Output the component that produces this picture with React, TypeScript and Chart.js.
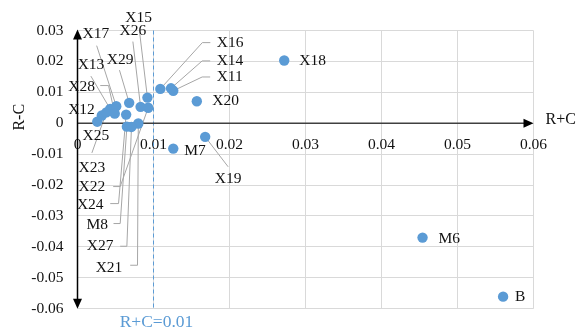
import { useEffect, useRef } from 'react';
import { Chart, registerables } from 'chart.js';

Chart.register(...registerables);

// ---- data ----
const pointNames = ['B', 'M6', 'M7', 'M8', 'X11', 'X12', 'X13', 'X14', 'X15', 'X16', 'X17', 'X18', 'X19', 'X20', 'X21', 'X22', 'X23', 'X24', 'X25', 'X26', 'X27', 'X28', 'X29'];
const rPlusC = [0.056, 0.0454, 0.0126, 0.0065, 0.0126, 0.0032, 0.0043, 0.0123, 0.0092, 0.0109, 0.0051, 0.0272, 0.0168, 0.0157, 0.008, 0.0093, 0.0038, 0.0064, 0.0026, 0.0083, 0.0071, 0.0049, 0.0068];
const rMinusC = [-0.0561, -0.037, -0.0082, -0.0011, 0.0105, 0.0025, 0.0046, 0.0113, 0.0083, 0.0111, 0.0055, 0.0203, -0.0044, 0.0071, -0.0001, 0.005, 0.0035, 0.0028, 0.0005, 0.0053, -0.0012, 0.0031, 0.0066];
const xTicks = [0, 0.01, 0.02, 0.03, 0.04, 0.05, 0.06];
const yTicks = [0.03, 0.02, 0.01, 0, -0.01, -0.02, -0.03, -0.04, -0.05, -0.06];
const thresholdX = 0.01;
const thresholdLabel = 'R+C=0.01';
const xTitle = 'R+C';
const yTitle = 'R-C';

// ---- label placement (pixel offsets from the point) ----
type Note = { t: [number, number]; align: 'left' | 'center'; path?: [number, number][] };
const notes: Record<string, Note> = {
  B: { t: [12, 0.5], align: 'left' },
  M6: { t: [16, 1.5], align: 'left' },
  M7: { t: [11, 2.5], align: 'left' },
  X18: { t: [15, 0], align: 'left' },
  X20: { t: [15.5, 0], align: 'left' },
  X19: { t: [23, 42], align: 'center', path: [[23, 30]] },
  X16: { t: [56.4, -46.3], align: 'left', path: [[50, -46.3], [42, -46.3]] },
  X14: { t: [45.7, -27.4], align: 'left', path: [[39.2, -27.4], [31.2, -27.4]] },
  X11: { t: [43.4, -13.8], align: 'left', path: [[36.9, -13.8], [28.9, -13.8]] },
  X15: { t: [-8.7, -80], align: 'center', path: [[-7.9, -66]] },
  X26: { t: [-7.7, -75.6], align: 'center', path: [[-7.7, -65.3]] },
  X17: { t: [-20.4, -72.3], align: 'center', path: [[-19.6, -60.6]] },
  X29: { t: [-9, -43.2], align: 'center', path: [[-9.7, -32.7]] },
  X13: { t: [-19.2, -44.4], align: 'center', path: [[-19.3, -32.9]] },
  X28: { t: [-33.2, -26.4], align: 'center', path: [[-14.5, -28.1], [-6.2, -28.1]] },
  X12: { t: [-20.3, -6], align: 'center' },
  X25: { t: [-1.4, 13.8], align: 'center' },
  X23: { t: [-14.5, 55.5], align: 'center', path: [[-14.5, 40.5]] },
  X22: { t: [-56.3, 78.8], align: 'center', path: [[-35, 78.8], [-28, 78.8]] },
  X24: { t: [-35.9, 90], align: 'center', path: [[-15.9, 89], [-7.6, 89]] },
  M8: { t: [-29.7, 97.9], align: 'center', path: [[-13.4, 96.9], [-6.7, 96.9]] },
  X27: { t: [-31.3, 119.3], align: 'center', path: [[-11.3, 119.3], [-4.6, 119.3]] },
  X21: { t: [-29.3, 144.3], align: 'center', path: [[-8.1, 141.7], [-0.8, 141.7]] },
};

const SERIF = "'Liberation Serif', 'Times New Roman', serif";
const BLUE = '#5b9bd5';

const fmt = (v: number) => String(+v.toFixed(2));

const overlay = {
  id: 'overlay',
  beforeDatasetsDraw(chart: any) {
    const { ctx, chartArea: a, scales } = chart;
    const xs = scales.x;
    const ys = scales.y;
    const x0 = xs.getPixelForValue(0);
    const y0 = ys.getPixelForValue(0);
    ctx.save();
    // threshold dashed line
    const tx = xs.getPixelForValue(thresholdX);
    ctx.strokeStyle = BLUE;
    ctx.lineWidth = 1;
    ctx.setLineDash([4, 3]);
    ctx.beginPath();
    ctx.moveTo(tx, a.top);
    ctx.lineTo(tx, a.bottom);
    ctx.stroke();
    ctx.setLineDash([]);
    // leader lines
    const meta = chart.getDatasetMeta(0);
    ctx.strokeStyle = '#a6a6a6';
    ctx.lineWidth = 1;
    pointNames.forEach((n, i) => {
      const note = notes[n];
      const el = meta.data[i];
      if (!note || !note.path || !el) return;
      ctx.beginPath();
      note.path.forEach(([dx, dy], k) => {
        if (k === 0) ctx.moveTo(el.x + dx, el.y + dy);
        else ctx.lineTo(el.x + dx, el.y + dy);
      });
      ctx.lineTo(el.x, el.y);
      ctx.stroke();
    });
    // x axis line with arrow
    ctx.strokeStyle = '#404040';
    ctx.fillStyle = '#000';
    ctx.lineWidth = 1.5;
    ctx.beginPath();
    ctx.moveTo(x0, y0);
    ctx.lineTo(a.right - 6, y0);
    ctx.stroke();
    ctx.beginPath();
    ctx.moveTo(a.right, y0);
    ctx.lineTo(a.right - 10, y0 - 4.5);
    ctx.lineTo(a.right - 10, y0 + 4.5);
    ctx.closePath();
    ctx.fill();
    // y axis line with arrows
    ctx.strokeStyle = '#000';
    ctx.beginPath();
    ctx.moveTo(x0, a.top + 6);
    ctx.lineTo(x0, a.bottom - 6);
    ctx.stroke();
    ctx.beginPath();
    ctx.moveTo(x0, a.top - 1);
    ctx.lineTo(x0 - 4.5, a.top + 9);
    ctx.lineTo(x0 + 4.5, a.top + 9);
    ctx.closePath();
    ctx.fill();
    ctx.beginPath();
    ctx.moveTo(x0, a.bottom);
    ctx.lineTo(x0 - 4.5, a.bottom - 10);
    ctx.lineTo(x0 + 4.5, a.bottom - 10);
    ctx.closePath();
    ctx.fill();
    ctx.restore();
  },
  afterDatasetsDraw(chart: any) {
    const { ctx, chartArea: a, scales } = chart;
    const xs = scales.x;
    const ys = scales.y;
    const y0 = ys.getPixelForValue(0);
    const meta = chart.getDatasetMeta(0);
    ctx.save();
    ctx.fillStyle = '#111';
    ctx.font = `15.5px ${SERIF}`;
    ctx.textBaseline = 'middle';
    pointNames.forEach((n, i) => {
      const note = notes[n];
      const el = meta.data[i];
      if (!note || !el) return;
      ctx.textAlign = note.align;
      ctx.fillText(n, el.x + note.t[0], el.y + note.t[1]);
    });
    // axis titles
    ctx.font = `16px ${SERIF}`;
    ctx.textAlign = 'left';
    ctx.fillText(xTitle, a.right + 12, y0 - 3);
    ctx.save();
    ctx.translate(20, y0 - 6);
    ctx.rotate(-Math.PI / 2);
    ctx.textAlign = 'center';
    ctx.fillText(yTitle, 0, 0);
    ctx.restore();
    // threshold label
    ctx.fillStyle = BLUE;
    ctx.font = `17.5px ${SERIF}`;
    ctx.textAlign = 'center';
    ctx.fillText(thresholdLabel, xs.getPixelForValue(thresholdX) + 3, a.bottom + 14);
    ctx.restore();
  },
};

export default function App() {
  const ref = useRef<HTMLCanvasElement | null>(null);
  useEffect(() => {
    if (!ref.current) return;
    const chart = new Chart(ref.current, {
      type: 'scatter',
      data: {
        datasets: [
          {
            data: rPlusC.map((x, i) => ({ x, y: rMinusC[i] })),
            backgroundColor: BLUE,
            borderWidth: 0,
            pointRadius: 5.2,
          },
        ],
      },
      options: {
        animation: false,
        responsive: false,
        devicePixelRatio: 1,
        layout: { padding: { left: 0, top: 30.5, right: 42.5, bottom: 22.5 } },
        plugins: { legend: { display: false }, tooltip: { enabled: false } },
        scales: {
          x: {
            type: 'linear',
            min: 0,
            max: 0.06,
            position: { y: 0 } as any,
            afterBuildTicks: (s: any) => {
              s.ticks = xTicks.map((v) => ({ value: v }));
            },
            ticks: {
              callback: (v: any) => fmt(Number(v)),
              font: { family: SERIF, size: 15.5 },
              color: '#111',
              padding: 12,
              maxRotation: 0,
              autoSkip: false,
            },
            grid: { color: '#d9d9d9', lineWidth: 1, drawTicks: false },
            border: { display: false },
          },
          y: {
            type: 'linear',
            min: -0.06,
            max: 0.03,
            position: 'left',
            afterBuildTicks: (s: any) => {
              s.ticks = yTicks.map((v) => ({ value: v }));
            },
            afterFit: (s: any) => {
              s.width = 77.5;
            },
            ticks: {
              callback: (v: any) => fmt(Number(v)),
              font: { family: SERIF, size: 15.5 },
              color: '#111',
              padding: 14,
              autoSkip: false,
            },
            grid: { color: '#d9d9d9', lineWidth: 1, drawTicks: false },
            border: { display: false },
          },
        },
      },
      plugins: [overlay],
    });
    return () => chart.destroy();
  }, []);
  return (
    <div style={{ position: 'fixed', left: 0, top: 0, width: 576, height: 332, background: '#fff' }}>
      <canvas ref={ref} width={576} height={332} style={{ width: 576, height: 332, display: 'block' }} />
    </div>
  );
}
